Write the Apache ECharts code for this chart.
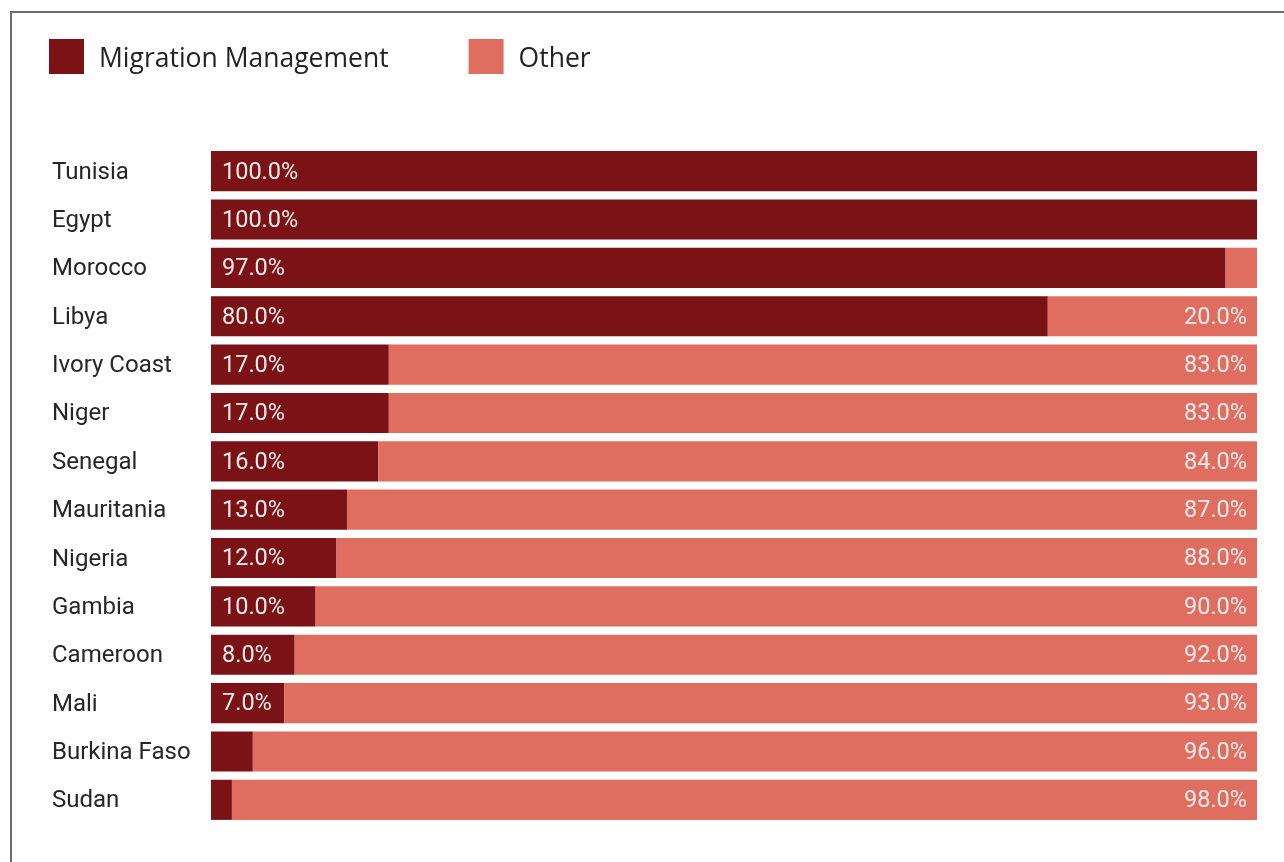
<!DOCTYPE html>
<html>
<head>
<meta charset="utf-8">
<script src="https://cdn.jsdelivr.net/npm/echarts@6/dist/echarts.min.js"></script>
<style>
  html, body { margin: 0; padding: 0; background: #fff; }
  #frame {
    position: absolute; left: 10px; top: 11px; width: 1300px; height: 900px;
    border-top: 2px solid #6b6b6b; border-left: 2px solid #6b6b6b;
  }
  #chart { position: absolute; left: 0; top: 0; width: 1284px; height: 862px; }
</style>
</head>
<body>
<div id="frame"></div>
<div id="chart"></div>
<script>
const countries = ["Tunisia", "Egypt", "Morocco", "Libya", "Ivory Coast", "Niger", "Senegal",
  "Mauritania", "Nigeria", "Gambia", "Cameroon", "Mali", "Burkina Faso", "Sudan"];
const migration = [100, 100, 97, 80, 17, 17, 16, 13, 12, 10, 8, 7, 4, 2];
const other = [0, 0, 3, 20, 83, 83, 84, 87, 88, 90, 92, 93, 96, 98];

const chart = echarts.init(document.getElementById("chart"));

// hide labels on slivers that are too narrow for text
const fmt = (p) => (p.value >= 5 ? p.value.toFixed(1) + "%" : "");

const labelStyle = {
  show: true,
  color: "#f6ecea",
  fontFamily: "Roboto",
  fontSize: 23.5,
  offset: [0, 1.5],
  formatter: fmt,
};

const option = {
  animation: false,
  legend: {
    left: 44,
    top: 34,
    itemWidth: 35,
    itemHeight: 35,
    itemGap: 80,
    icon: "rect",
    formatter: (name) => "{t|" + name + "}",
    textStyle: {
      rich: {
        t: { fontFamily: "Open Sans", fontSize: 26.5, color: "#222", padding: [6, 0, 0, 10] },
      },
    },
    data: ["Migration Management", "Other"],
  },
  grid: { left: 211, right: 27, top: 147, bottom: 38, containLabel: false },
  xAxis: { type: "value", min: 0, max: 100, show: false },
  yAxis: {
    type: "category",
    inverse: true,
    data: countries,
    axisLine: { show: false },
    axisTick: { show: false },
    axisLabel: {
      align: "left",
      margin: 159,
      formatter: (v) => "{c|" + v + "}",
      rich: {
        c: { color: "#262626", fontFamily: "Roboto", fontSize: 24, padding: [3, 0, 0, 0] },
      },
    },
  },
  series: [
    {
      name: "Migration Management",
      type: "bar",
      stack: "total",
      data: migration,
      barCategoryGap: "17%",
      itemStyle: { color: "#7a1216" },
      label: Object.assign({}, labelStyle, { position: "insideLeft", distance: 11 }),
    },
    {
      name: "Other",
      type: "bar",
      stack: "total",
      data: other,
      itemStyle: { color: "#e06e60" },
      label: Object.assign({}, labelStyle, { position: "insideRight", distance: 10 }),
    },
  ],
};

chart.setOption(option);
</script>
</body>
</html>
